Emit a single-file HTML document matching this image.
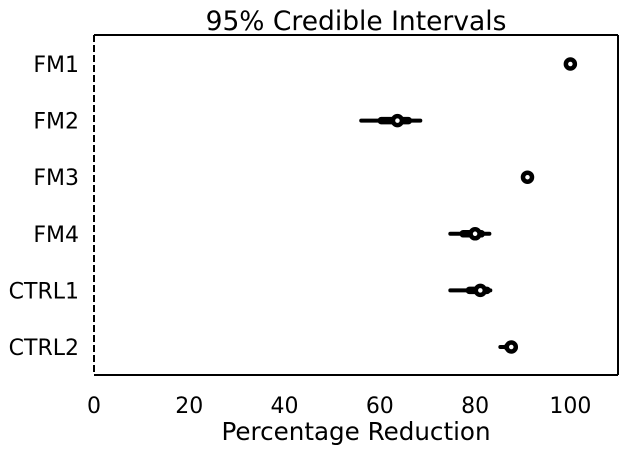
<!DOCTYPE html>
<html><head><meta charset="utf-8"><style>
body{margin:0;background:#fff;}
svg text{font-family:"DejaVu Sans","Liberation Sans",sans-serif;fill:#000;}
</style></head><body>
<svg id="chart" width="644" height="448">
<text x="356" y="30" font-size="26.5" text-anchor="middle">95% Credible Intervals</text>
<g id="marks"></g>
<g id="axes"></g>
<text x="356" y="440" font-size="24.6" text-anchor="middle">Percentage Reduction</text>
</svg>
<script>
const categories=["FM1","FM2","FM3","FM4","CTRL1","CTRL2"];
const medians=[100,63.7,91.0,80.0,81.1,87.6];
const lo95=[99.3,56.1,90.3,74.8,74.8,85.3];
const hi95=[100.6,68.5,91.6,83.0,83.2,88.1];
const lo50=[99.7,60.3,90.7,77.5,78.8,86.8];
const hi50=[100.3,66.0,91.3,81.3,82.5,88.0];
const xTicks=[0,20,40,60,80,100];
const L=94,R=618,T=35,B=375,XMAX=110;
const x=v=>L+(v/XMAX)*(R-L);
const y=i=>64+i*56.6;
const NS="http://www.w3.org/2000/svg";
function mk(tag,attrs,parent){const e=document.createElementNS(NS,tag);for(const k in attrs)e.setAttribute(k,attrs[k]);parent.appendChild(e);return e;}
const marks=document.getElementById('marks'),axes=document.getElementById('axes');
let s=mk('line',{x1:L,y1:T,x2:R,y2:T,stroke:'#000','stroke-width':2},axes);


s=mk('line',{x1:R,y1:T,x2:R,y2:B,stroke:'#000','stroke-width':2},axes);


s=mk('line',{x1:L,y1:B,x2:R,y2:B,stroke:'#000','stroke-width':2},axes);


s=mk('line',{x1:x(0),y1:T,x2:x(0),y2:B,stroke:'#000','stroke-width':2,'stroke-dasharray':'7,3'},axes);


xTicks.forEach(t=>{
 const tx=mk('text',{x:x(t),y:413,'font-size':22,'text-anchor':'middle'},axes);
 tx.textContent=t;
 
 
});
categories.forEach((c,i)=>{
 const tx=mk('text',{x:79,y:y(i)+8,'font-size':22,'text-anchor':'end'},axes);
 tx.textContent=c;
 
 
 const g=mk('g',{},marks);
 
 
 mk('line',{x1:x(lo95[i]),y1:y(i),x2:x(hi95[i]),y2:y(i),stroke:'#000','stroke-width':4,'stroke-linecap':'round'},g);
 mk('line',{x1:x(lo50[i]),y1:y(i),x2:x(hi50[i]),y2:y(i),stroke:'#000','stroke-width':7.5,'stroke-linecap':'round'},g);
 const p=mk('circle',{cx:x(medians[i]),cy:y(i),r:4.5,fill:'#fff',stroke:'#000','stroke-width':4.5},g);
 
 
});
</script>
</body></html>
